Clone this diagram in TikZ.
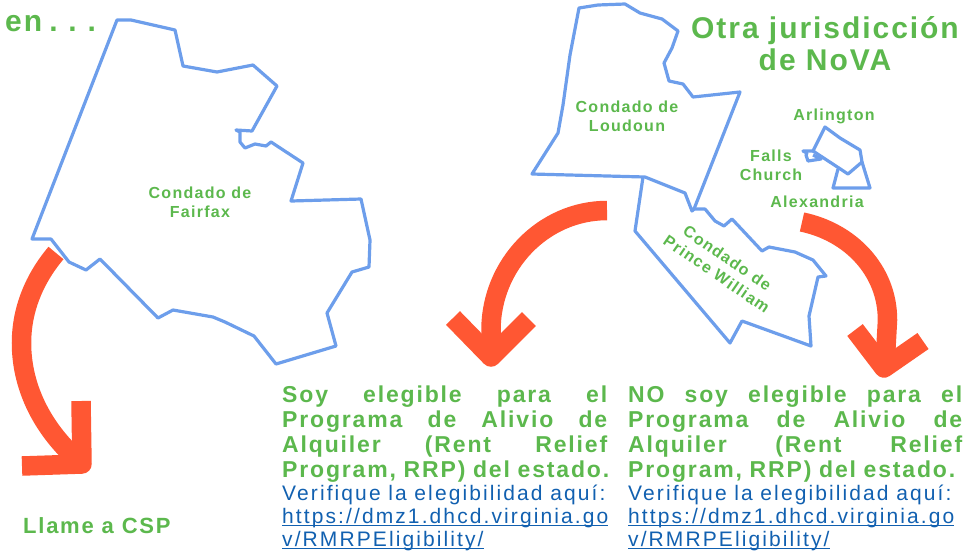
\documentclass[tikz,border=0pt]{standalone}
\usepackage{fontspec}
\setmainfont{Liberation Sans}
\newfontfamily\bodyfam[LetterSpace=8]{Liberation Sans}
\newfontfamily\linkfam[LetterSpace=10]{Liberation Sans}
\newfontfamily\headfam[LetterSpace=6.5]{Liberation Sans}
\newfontfamily\labfam[LetterSpace=8]{Liberation Sans}
\definecolor{mapblue}{HTML}{6D9EEB}
\definecolor{arrowred}{HTML}{FF5733}
\definecolor{labgreen}{HTML}{5CB84D}
\definecolor{linkblue}{HTML}{1160B0}
\newcommand\fs[2]{\fontsize{#1}{#2}\selectfont}
\newcommand\lnk[1]{\setbox0\hbox{#1}\rlap{\raisebox{-2.6pt}{\rule{\wd0}{1.1pt}}}\box0}
\newcommand\jline[2]{\hbox to #1{#2}\par}
\tikzset{
  x=1pt,y=-1pt,
  county/.style={draw=mapblue,line width=3.2pt,line join=round},
  shaft/.style={draw=arrowred,line width=19.5pt},
  head/.style={draw=arrowred,line width=19.5pt,line join=round},
  maplabel/.style={text=labgreen,font=\labfam\bfseries\fs{16}{19},align=center,inner sep=0pt},
  heading/.style={text=labgreen,font=\headfam\bfseries\fs{30}{32},align=center,inner sep=0pt},
  infoblock/.style={anchor=north west,inner sep=0pt,text width=334pt,align=left,text=labgreen,font=\bodyfam\bfseries\fs{23}{25}},
}
\begin{document}
\begin{tikzpicture}
\useasboundingbox (0,0) rectangle (963,550);
% Fairfax
\draw[county] (117,20) -- (131,20) -- (175,30) -- (183,66) -- (217,72) -- (253,65) -- (277,86) -- (252,131) -- (236,130) -- (240,132) -- (240,142) -- (245,148) -- (255,144) -- (266,146) -- (271,142) -- (303,163) -- (291,201) -- (361,199) -- (370,240) -- (369,267) -- (352,272) -- (327,313) -- (336,346) -- (276,364) -- (254,336) -- (225,322) -- (213,317) -- (173,310) -- (158,318) -- (100,259) -- (86,270) -- (69,262) -- (51,239) -- (32,239) -- cycle;
% Loudoun
\draw[county] (579,8) -- (598,5) -- (625,4) -- (640,13) -- (662,19) -- (678,31) -- (672,48) -- (664,63) -- (669,81) -- (683,84) -- (693,97) -- (740,92) -- (694,209) -- (692,211) -- (685,193) -- (645,177) -- (532,174) -- (558,133) -- (563,105) -- (570,55) -- cycle;
% Prince William
\draw[county] (643,177) -- (635,231) -- (730,343) -- (742,321) -- (811,346) -- (809,316) -- (818,277) -- (826,276) -- (813,260) -- (795,252) -- (769,247) -- (762,251) -- (732,219) -- (724,226) -- (715,221) -- (705,209) -- (694,209);
% Arlington
\draw[county] (825,127) -- (840,138) -- (860,150) -- (862,162) -- (848,174) -- (813,151) -- cycle;
% Falls Church
\draw[county] (813,151) -- (803,151) -- (807,153) -- (806,155) -- (808,161) -- (821,159) -- (813,155);
% Alexandria
\draw[county] (838,169) -- (833,188) -- (870,188) -- (862,162);
% Left arrow
\draw[shaft] (56,253) .. controls (34,279) and (21.5,310) .. (21.5,343) .. controls (21.5,390) and (45,432) .. (80,462);
\draw[head] (81,401) -- (82,464) -- (22,466);
% Middle arrow
\draw[shaft] (607,210.5) .. controls (543,210.5) and (491,265) .. (491,330) -- (491,355);
\draw[head] (453,318) -- (491,357) -- (529,319);
% Right arrow
\draw[shaft] (802,222) .. controls (850,232) and (887.5,270) .. (887.5,320) -- (885,365);
\draw[head] (855,330) -- (884,368) -- (923,341);
% Labels
\node[heading,anchor=base west] (en) at (5,31) {en\hspace{-3pt} .\hspace{-3pt} .\hspace{-3pt} .};
\node[heading] (otra) at (825,44) {Otra jurisdicción\\de NoVA};
\node[maplabel] (fairfax) at (200,202) {Condado de\\Fairfax};
\node[maplabel] (loudoun) at (627,116) {Condado de\\Loudoun};
\node[maplabel] (arlington) at (834,116) {Arlington};
\node[maplabel] (falls) at (771,165) {Falls\\Church};
\node[maplabel] (alexandria) at (817,202) {Alexandria};
\node[maplabel,rotate=-34.5] (pw) at (722,266) {Condado de\\Prince William};
\node[maplabel,anchor=base west,font=\labfam\bfseries\fs{22}{24}] (csp) at (23,533) {Llame a CSP};
\node[infoblock] (yes) at (282,386) {%
\jline{325pt}{Soy\hfill elegible\hfill para\hfill el}
\jline{325pt}{Programa\hfill de\hfill Alivio\hfill de}
\jline{325pt}{Alquiler\hfill (Rent\hfill Relief}
\jline{334pt}{Program, RRP) del estado.\hfill}
\linkfam\mdseries\color{linkblue}\fs{21}{23}%
\hbox{Verifique la elegibilidad aquí:}\par
\hbox{\lnk{https://dmz1.dhcd.virginia.go}}\par
\hbox{\lnk{v/RMRPEligibility/}}\par};
\node[infoblock] (no) at (628,386) {%
\jline{334pt}{NO\hfill soy\hfill elegible\hfill para\hfill el}
\jline{334pt}{Programa\hfill de\hfill Alivio\hfill de}
\jline{334pt}{Alquiler\hfill (Rent\hfill Relief}
\jline{334pt}{Program, RRP) del estado.\hfill}
\linkfam\mdseries\color{linkblue}\fs{21}{23}%
\hbox{Verifique la elegibilidad aquí:}\par
\hbox{\lnk{https://dmz1.dhcd.virginia.go}}\par
\hbox{\lnk{v/RMRPEligibility/}}\par};
\end{tikzpicture}
\end{document}
